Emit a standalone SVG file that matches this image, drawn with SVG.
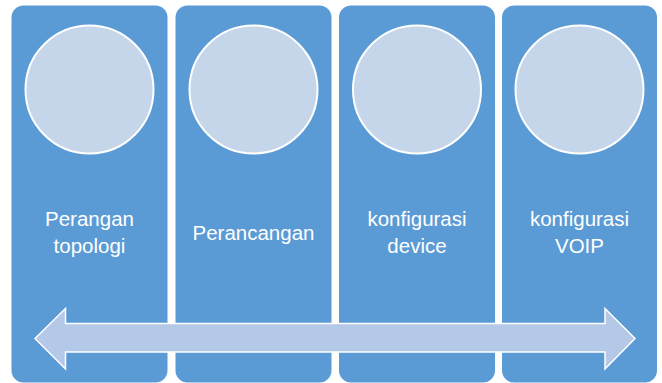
<svg xmlns="http://www.w3.org/2000/svg" width="662" height="383" viewBox="0 0 662 383">
<style>
.box{fill:#5b9bd5;}
.circ{fill:#c5d5ea;stroke:#ffffff;stroke-width:2;}
.lbl{fill:#ffffff;font-family:"Liberation Sans",Arial,sans-serif;font-size:20.5px;text-anchor:middle;}
.arrow{fill:#b4c8e7;stroke:#ffffff;stroke-width:1.5;}
</style>
<rect width="662" height="383" fill="#ffffff"/>
<g id="node1">
<rect class="box" x="11.5" y="5.5" width="156" height="377" rx="12"/>
<circle class="circ" cx="89.5" cy="89.5" r="64"/>
<text class="lbl" x="89.5" y="226">Perangan</text>
<text class="lbl" x="89.5" y="253">topologi</text>
</g>
<g id="node2">
<rect class="box" x="175.5" y="5.5" width="156" height="377" rx="12"/>
<circle class="circ" cx="253.5" cy="89.5" r="64"/>
<text class="lbl" x="253.5" y="240">Perancangan</text>
</g>
<g id="node3">
<rect class="box" x="339" y="5.5" width="156" height="377" rx="12"/>
<circle class="circ" cx="417" cy="89.5" r="64"/>
<text class="lbl" x="417" y="226">konfigurasi</text>
<text class="lbl" x="417" y="253">device</text>
</g>
<g id="node4">
<rect class="box" x="502" y="5.5" width="155" height="377" rx="12"/>
<circle class="circ" cx="579.5" cy="89.5" r="64"/>
<text class="lbl" x="579.5" y="226">konfigurasi</text>
<text class="lbl" x="579.5" y="253">VOIP</text>
</g>
<g id="connectors">
<path class="arrow" d="M35,338.5 L65.5,308.5 L65.5,323.5 L605,323.5 L605,308.5 L635,338.5 L605,369 L605,352 L65.5,352 L65.5,369 Z"/>
</g>
</svg>
